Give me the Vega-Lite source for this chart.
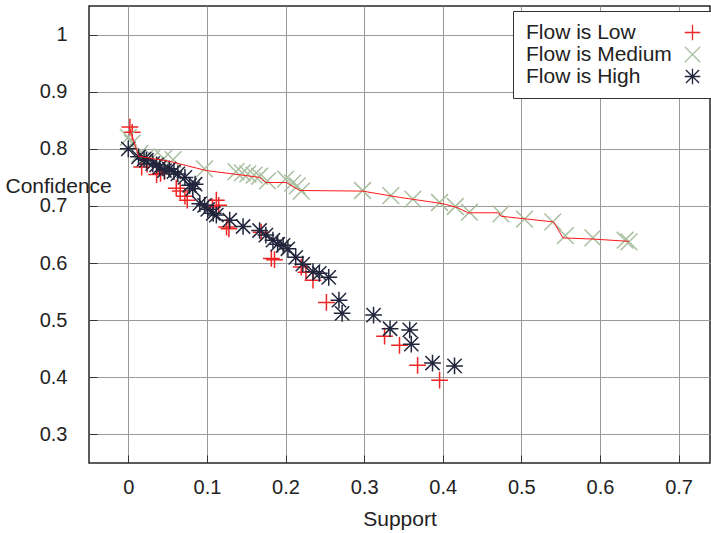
{
  "$schema": "https://vega.github.io/schema/vega-lite/v6.json",
  "width": 621,
  "height": 457,
  "autosize": {"type": "none"},
  "padding": {"left": 89, "top": 6, "right": 1, "bottom": 70},
  "background": "white",
  "config": {
    "view": {"stroke": "#262626", "strokeWidth": 1.5},
    "font": "Liberation Sans",
    "axis": {
      "domain": false,
      "grid": true,
      "gridColor": "#9a9a9a",
      "gridWidth": 1,
      "gridOpacity": 1,
      "ticks": true,
      "tickSize": -8,
      "tickColor": "#333333",
      "tickWidth": 1,
      "labelFont": "Liberation Sans",
      "labelFontSize": 20,
      "labelColor": "#222222",
      "titleFont": "Liberation Sans",
      "titleFontSize": 21,
      "titleFontWeight": "normal",
      "titleColor": "#222222"
    },
    "legend": {
      "labelFont": "Liberation Sans",
      "labelFontSize": 21,
      "labelColor": "#222222",
      "symbolStrokeWidth": 1.3,
      "symbolSize": 240,
      "strokeColor": "#333333",
      "fillColor": "white",
      "padding": 11,
      "rowPadding": 0,
      "labelOffset": -177
    }
  },
  "datasets": {
    "pts": [
      {"flow": "Flow is Low", "support": 0.002, "confidence": 0.838},
      {"flow": "Flow is Low", "support": 0.005, "confidence": 0.829},
      {"flow": "Flow is Low", "support": 0.017, "confidence": 0.768},
      {"flow": "Flow is Low", "support": 0.024, "confidence": 0.773},
      {"flow": "Flow is Low", "support": 0.036, "confidence": 0.755},
      {"flow": "Flow is Low", "support": 0.041, "confidence": 0.757},
      {"flow": "Flow is Low", "support": 0.046, "confidence": 0.76},
      {"flow": "Flow is Low", "support": 0.061, "confidence": 0.731},
      {"flow": "Flow is Low", "support": 0.066, "confidence": 0.726},
      {"flow": "Flow is Low", "support": 0.072, "confidence": 0.717},
      {"flow": "Flow is Low", "support": 0.075, "confidence": 0.71},
      {"flow": "Flow is Low", "support": 0.107, "confidence": 0.698},
      {"flow": "Flow is Low", "support": 0.112, "confidence": 0.71},
      {"flow": "Flow is Low", "support": 0.115, "confidence": 0.701},
      {"flow": "Flow is Low", "support": 0.125, "confidence": 0.663},
      {"flow": "Flow is Low", "support": 0.128, "confidence": 0.66},
      {"flow": "Flow is Low", "support": 0.169, "confidence": 0.654},
      {"flow": "Flow is Low", "support": 0.182, "confidence": 0.608},
      {"flow": "Flow is Low", "support": 0.186, "confidence": 0.606},
      {"flow": "Flow is Low", "support": 0.22, "confidence": 0.593},
      {"flow": "Flow is Low", "support": 0.226, "confidence": 0.584},
      {"flow": "Flow is Low", "support": 0.235, "confidence": 0.57},
      {"flow": "Flow is Low", "support": 0.252, "confidence": 0.531},
      {"flow": "Flow is Low", "support": 0.326, "confidence": 0.472},
      {"flow": "Flow is Low", "support": 0.345, "confidence": 0.456},
      {"flow": "Flow is Low", "support": 0.368, "confidence": 0.421},
      {"flow": "Flow is Low", "support": 0.396, "confidence": 0.395},
      {"flow": "Flow is Medium", "support": 0.0, "confidence": 0.82},
      {"flow": "Flow is Medium", "support": 0.005, "confidence": 0.81},
      {"flow": "Flow is Medium", "support": 0.015, "confidence": 0.792},
      {"flow": "Flow is Medium", "support": 0.023, "confidence": 0.786},
      {"flow": "Flow is Medium", "support": 0.031, "confidence": 0.785},
      {"flow": "Flow is Medium", "support": 0.045, "confidence": 0.783},
      {"flow": "Flow is Medium", "support": 0.057, "confidence": 0.781},
      {"flow": "Flow is Medium", "support": 0.097, "confidence": 0.765},
      {"flow": "Flow is Medium", "support": 0.137, "confidence": 0.76},
      {"flow": "Flow is Medium", "support": 0.145, "confidence": 0.758},
      {"flow": "Flow is Medium", "support": 0.152, "confidence": 0.756},
      {"flow": "Flow is Medium", "support": 0.16, "confidence": 0.754},
      {"flow": "Flow is Medium", "support": 0.167, "confidence": 0.752},
      {"flow": "Flow is Medium", "support": 0.177, "confidence": 0.744},
      {"flow": "Flow is Medium", "support": 0.2, "confidence": 0.747},
      {"flow": "Flow is Medium", "support": 0.209, "confidence": 0.74},
      {"flow": "Flow is Medium", "support": 0.215, "confidence": 0.735},
      {"flow": "Flow is Medium", "support": 0.22, "confidence": 0.726},
      {"flow": "Flow is Medium", "support": 0.298, "confidence": 0.727},
      {"flow": "Flow is Medium", "support": 0.334, "confidence": 0.718},
      {"flow": "Flow is Medium", "support": 0.362, "confidence": 0.712},
      {"flow": "Flow is Medium", "support": 0.396, "confidence": 0.706},
      {"flow": "Flow is Medium", "support": 0.416, "confidence": 0.699},
      {"flow": "Flow is Medium", "support": 0.434, "confidence": 0.689},
      {"flow": "Flow is Medium", "support": 0.474, "confidence": 0.686},
      {"flow": "Flow is Medium", "support": 0.504, "confidence": 0.677},
      {"flow": "Flow is Medium", "support": 0.54, "confidence": 0.672},
      {"flow": "Flow is Medium", "support": 0.556, "confidence": 0.648},
      {"flow": "Flow is Medium", "support": 0.591, "confidence": 0.644},
      {"flow": "Flow is Medium", "support": 0.632, "confidence": 0.64},
      {"flow": "Flow is Medium", "support": 0.637, "confidence": 0.637},
      {"flow": "Flow is High", "support": 0.0, "confidence": 0.8},
      {"flow": "Flow is High", "support": 0.013, "confidence": 0.786},
      {"flow": "Flow is High", "support": 0.02, "confidence": 0.782},
      {"flow": "Flow is High", "support": 0.023, "confidence": 0.78},
      {"flow": "Flow is High", "support": 0.031, "confidence": 0.774},
      {"flow": "Flow is High", "support": 0.036, "confidence": 0.772},
      {"flow": "Flow is High", "support": 0.04, "confidence": 0.768},
      {"flow": "Flow is High", "support": 0.046, "confidence": 0.762},
      {"flow": "Flow is High", "support": 0.052, "confidence": 0.765},
      {"flow": "Flow is High", "support": 0.058, "confidence": 0.76},
      {"flow": "Flow is High", "support": 0.063, "confidence": 0.756},
      {"flow": "Flow is High", "support": 0.072, "confidence": 0.75},
      {"flow": "Flow is High", "support": 0.078, "confidence": 0.736},
      {"flow": "Flow is High", "support": 0.082, "confidence": 0.73},
      {"flow": "Flow is High", "support": 0.085, "confidence": 0.738},
      {"flow": "Flow is High", "support": 0.091, "confidence": 0.704},
      {"flow": "Flow is High", "support": 0.097, "confidence": 0.701},
      {"flow": "Flow is High", "support": 0.101, "confidence": 0.694},
      {"flow": "Flow is High", "support": 0.108, "confidence": 0.687},
      {"flow": "Flow is High", "support": 0.112, "confidence": 0.684},
      {"flow": "Flow is High", "support": 0.129, "confidence": 0.675},
      {"flow": "Flow is High", "support": 0.146, "confidence": 0.664},
      {"flow": "Flow is High", "support": 0.167, "confidence": 0.657},
      {"flow": "Flow is High", "support": 0.175, "confidence": 0.649},
      {"flow": "Flow is High", "support": 0.184, "confidence": 0.64},
      {"flow": "Flow is High", "support": 0.19, "confidence": 0.633},
      {"flow": "Flow is High", "support": 0.197, "confidence": 0.631},
      {"flow": "Flow is High", "support": 0.203, "confidence": 0.625},
      {"flow": "Flow is High", "support": 0.213, "confidence": 0.61},
      {"flow": "Flow is High", "support": 0.222, "confidence": 0.598},
      {"flow": "Flow is High", "support": 0.235, "confidence": 0.585},
      {"flow": "Flow is High", "support": 0.243, "confidence": 0.582},
      {"flow": "Flow is High", "support": 0.255, "confidence": 0.575},
      {"flow": "Flow is High", "support": 0.268, "confidence": 0.535},
      {"flow": "Flow is High", "support": 0.272, "confidence": 0.512},
      {"flow": "Flow is High", "support": 0.312, "confidence": 0.509},
      {"flow": "Flow is High", "support": 0.333, "confidence": 0.485},
      {"flow": "Flow is High", "support": 0.358, "confidence": 0.483},
      {"flow": "Flow is High", "support": 0.36, "confidence": 0.458},
      {"flow": "Flow is High", "support": 0.387, "confidence": 0.425},
      {"flow": "Flow is High", "support": 0.415, "confidence": 0.42}
    ],
    "front": [
      {"support": 0.002, "confidence": 0.835},
      {"support": 0.013, "confidence": 0.787},
      {"support": 0.053, "confidence": 0.778},
      {"support": 0.099, "confidence": 0.762},
      {"support": 0.167, "confidence": 0.75},
      {"support": 0.175, "confidence": 0.741},
      {"support": 0.201, "confidence": 0.741},
      {"support": 0.218, "confidence": 0.727},
      {"support": 0.298, "confidence": 0.726},
      {"support": 0.345, "confidence": 0.715},
      {"support": 0.4, "confidence": 0.704},
      {"support": 0.419, "confidence": 0.697},
      {"support": 0.432, "confidence": 0.688},
      {"support": 0.471, "confidence": 0.688},
      {"support": 0.474, "confidence": 0.682},
      {"support": 0.541, "confidence": 0.672},
      {"support": 0.553, "confidence": 0.644},
      {"support": 0.591, "confidence": 0.642},
      {"support": 0.637, "confidence": 0.638}
    ]
  },
  "layer": [
    {
      "data": {"name": "pts"},
      "mark": {"type": "point", "filled": false, "opacity": 1, "strokeWidth": 1.5, "size": 280},
      "encoding": {
        "x": {
          "field": "support", "type": "quantitative",
          "scale": {"domain": [-0.05, 0.74], "nice": false, "zero": false},
          "axis": {
            "title": "Support",
            "values": [0, 0.1, 0.2, 0.3, 0.4, 0.5, 0.6, 0.7],
            "format": "~g",
            "labelPadding": 22.5,
            "labelBaseline": "top",
            "titleY": 62,
            "titleBaseline": "alphabetic"
          }
        },
        "y": {
          "field": "confidence", "type": "quantitative",
          "scale": {"domain": [0.25, 1.05], "nice": false, "zero": false},
          "axis": {
            "title": "Confidence",
            "values": [0.3, 0.4, 0.5, 0.6, 0.7, 0.8, 0.9, 1],
            "format": "~g",
            "labelPadding": 30,
            "titleAngle": 0,
            "titleAlign": "left",
            "titleBaseline": "middle",
            "titleX": -84,
            "titleY": 180
          }
        },
        "color": {
          "field": "flow", "type": "nominal",
          "scale": {
            "domain": ["Flow is Low", "Flow is Medium", "Flow is High"],
            "range": ["#f02424", "#a9bfa0", "#22263d"]
          },
          "legend": {"title": null, "orient": "none", "legendX": 424, "legendY": 5, "symbolOffset": 158}
        },
        "shape": {
          "field": "flow", "type": "nominal",
          "scale": {
            "domain": ["Flow is Low", "Flow is Medium", "Flow is High"],
            "range": [
              "M-1,0H1M0,-1V1",
              "M-1,-1L1,1M-1,1L1,-1",
              "M-1,0H1M0,-1V1M-0.85,-0.85L0.85,0.85M-0.85,0.85L0.85,-0.85"
            ]
          },
          "legend": {"title": null, "orient": "none", "legendX": 424, "legendY": 5, "symbolOffset": 158}
        }
      }
    },
    {
      "data": {"name": "front"},
      "mark": {"type": "line", "color": "#ff1a1a", "strokeWidth": 1},
      "encoding": {
        "x": {"field": "support", "type": "quantitative"},
        "y": {"field": "confidence", "type": "quantitative"}
      }
    }
  ]
}
